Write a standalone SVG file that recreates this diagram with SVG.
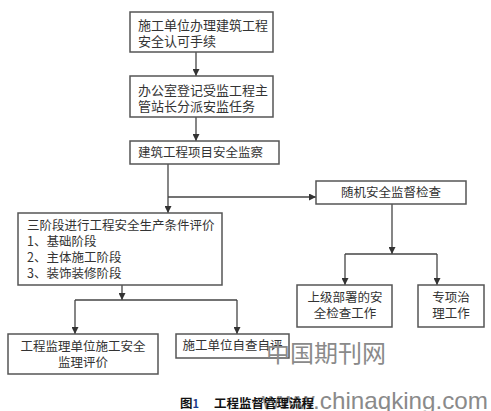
<svg xmlns="http://www.w3.org/2000/svg" width="491" height="411" viewBox="0 0 491 411">
<style>
.box{fill:#fff;stroke:#555;stroke-width:1.5}
.t{font-family:"Noto Sans CJK SC","Liberation Serif",serif;font-size:12.5px;fill:#333}
.t13{font-size:13px}
.c{text-anchor:middle}
.ln{fill:none;stroke:#444;stroke-width:1.3}
.wm{font-family:"Noto Sans CJK SC",sans-serif;fill:#8a8a8a}
.cap{font-family:"Noto Sans CJK SC","Liberation Sans",sans-serif;font-weight:bold;font-size:12.5px;fill:#111}
</style>
<defs>
<marker id="ah" viewBox="0 0 8 8" refX="8" refY="4" markerWidth="7" markerHeight="7" markerUnits="userSpaceOnUse" orient="auto">
<path d="M0,0 L8,4 L0,8 z" fill="#333"/>
</marker>
</defs>
<rect width="491" height="411" fill="#fff"/>
<g id="connectors" class="ln">
<path d="M196,52 V76" marker-end="url(#ah)"/>
<path d="M196,117 V141" marker-end="url(#ah)"/>
<path d="M168,164 V213" marker-end="url(#ah)"/>
<path d="M168,197 H316" marker-end="url(#ah)"/>
<path d="M392,204 V254" marker-end="url(#ah)"/>
<path d="M345,254 H437"/>
<path d="M345,254 V285" marker-end="url(#ah)"/>
<path d="M437,254 V285" marker-end="url(#ah)"/>
<path d="M122,285 V300" marker-end="url(#ah)"/>
<path d="M75,300 H237"/>
<path d="M75,300 V334" marker-end="url(#ah)"/>
<path d="M237,300 V334" marker-end="url(#ah)"/>
</g>
<g id="n1">
<rect class="box" x="130" y="12" width="143" height="40"/>
<text class="t t13" x="138" y="30">施工单位办理建筑工程</text>
<text class="t t13" x="138" y="46">安全认可手续</text>
</g>
<g id="n2">
<rect class="box" x="130" y="76" width="143" height="41"/>
<text class="t t13" x="138" y="95">办公室登记受监工程主</text>
<text class="t t13" x="138" y="111">管站长分派安监任务</text>
</g>
<g id="n3">
<rect class="box" x="130" y="141" width="149" height="23"/>
<text class="t" x="138" y="157">建筑工程项目安全监察</text>
</g>
<g id="n4">
<rect class="box" x="316" y="181" width="150" height="23"/>
<text class="t c" x="391" y="197">随机安全监督检查</text>
</g>
<g id="n5">
<rect class="box" x="18" y="213" width="204" height="72"/>
<text class="t" x="27" y="230">三阶段进行工程安全生产条件评价</text>
<text class="t" x="27" y="246">1、基础阶段</text>
<text class="t" x="27" y="262">2、主体施工阶段</text>
<text class="t" x="27" y="278">3、装饰装修阶段</text>
</g>
<g id="n6">
<rect class="box" x="297" y="285" width="95" height="42"/>
<text class="t c" x="345" y="302">上级部署的安</text>
<text class="t c" x="345" y="318">全检查工作</text>
</g>
<g id="n7">
<rect class="box" x="418" y="285" width="66" height="42"/>
<text class="t c" x="451" y="302">专项治</text>
<text class="t c" x="451" y="318">理工作</text>
</g>
<g id="n8">
<rect class="box" x="8" y="334" width="150" height="40"/>
<text class="t c" x="83" y="351">工程监理单位施工安全</text>
<text class="t c" x="83" y="367">监理评价</text>
</g>
<g id="n9">
<rect class="box" x="176" y="334" width="113" height="24"/>
<text class="t c" x="232.5" y="350">施工单位自查自评</text>
</g>
<text class="wm" x="266" y="362" font-size="24">中国期刊网</text>
<text class="wm" x="262" y="409" font-size="24" textLength="226" lengthAdjust="spacingAndGlyphs" style="font-family:'Liberation Sans',sans-serif">www.chinaqking.com</text>
<text class="cap" x="180" y="408">图<tspan fill="#1a3a8a" font-size="11px">1</tspan><tspan x="214">工程监督管理流程</tspan></text>
</svg>
